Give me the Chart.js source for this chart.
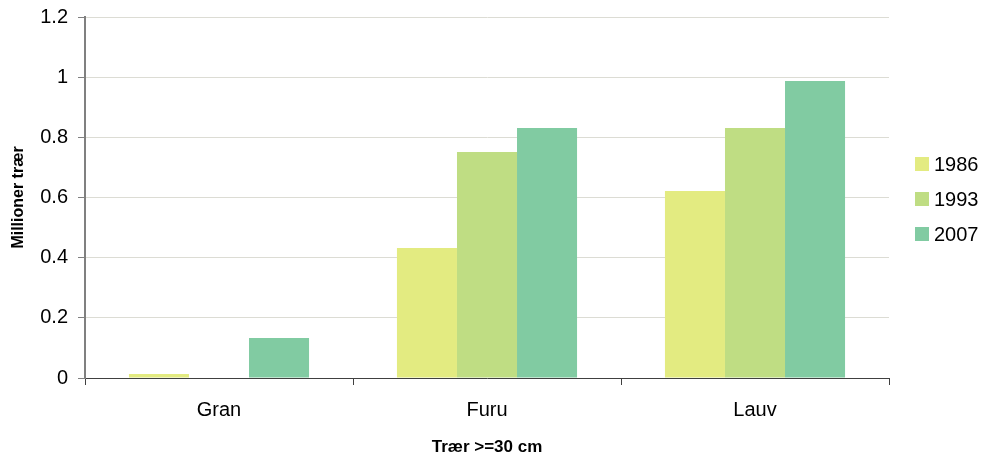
<!DOCTYPE html>
<html>
<head>
<meta charset="utf-8">
<script src="https://cdn.jsdelivr.net/npm/chart.js@4"></script>
<style>
    html, body { margin: 0; padding: 0; background: #ffffff; }
    #wrap { width: 983px; height: 454px; position: relative; }
    #legend { position: absolute; left: 915px; top: 157px; font: 20px 'Liberation Sans', Arial, sans-serif; color: #000; }
    #legend div { height: 35px; display: flex; align-items: flex-start; }
    #legend span.box { width: 14px; height: 14px; margin-right: 5px; }
    #legend span.txt { line-height: 14px; }
</style>
</head>
<body>
<div id="wrap"><canvas id="treeChart"></canvas><div id="legend"></div></div>
<script>
// ================================
// Data
// ================================

const categories = ["Gran", "Furu", "Lauv"];

const years = ["1986", "1993", "2007"];

const values1986 = [0.013, 0.432, 0.622];
const values1993 = [0, 0.751, 0.831];
const values2007 = [0.133, 0.831, 0.987];

const yTicks = [0, 0.2, 0.4, 0.6, 0.8, 1, 1.2];

const barColors = ["#e3eb81", "#bfdd83", "#81cba2"];

// ================================
// Chart
// ================================

Chart.defaults.font.family = "'Liberation Sans', Arial, sans-serif";
Chart.defaults.color = "#000000";

const seriesValues = [values1986, values1993, values2007];

const chart = new Chart(document.getElementById("treeChart"), {

    type: "bar",

    data: {
        labels: categories,
        datasets: years.map((year, i) => ({
            label: year,
            data: seriesValues[i],
            backgroundColor: barColors[i],
            borderWidth: 0,
            categoryPercentage: 0.672,
            barPercentage: 1
        }))
    },

    options: {
        responsive: true,
        maintainAspectRatio: false,
        animation: false,
        layout: {
            padding: { top: 0, right: 94, left: 0, bottom: 0 }
        },
        plugins: {
            tooltip: { enabled: false },
            legend: { display: false }
        },
        scales: {
            x: {
                afterFit: scale => { scale.height = 76; },
                grid: {
                    offset: true,
                    drawOnChartArea: false,
                    drawTicks: true,
                    tickLength: 7,
                    tickColor: "#404040"
                },
                border: { color: "#404040", width: 1 },
                ticks: { font: { size: 20 }, padding: 13 },
                title: {
                    display: true,
                    text: "Trær >=30 cm",
                    font: { size: 17, weight: "bold" },
                    padding: { top: 0, bottom: -4 }
                }
            },
            y: {
                min: 0,
                max: 1.2,
                afterFit: scale => {
                    scale.width = 85;
                    scale.paddingTop = 17;
                },
                afterBuildTicks: scale => {
                    scale.ticks = yTicks.map(v => ({ value: v }));
                },
                grid: {
                    color: "#dcdcd4",
                    tickColor: "#808080",
                    tickLength: 7,
                    lineWidth: 1
                },
                border: { color: "#808080", width: 2 },
                ticks: {
                    font: { size: 20 },
                    padding: 10,
                    callback: v => String(v)
                },
                title: {
                    display: true,
                    text: "Millioner trær",
                    font: { size: 16, weight: "bold" },
                    padding: { top: 9, bottom: 4 }
                }
            }
        }
    }

});

// ================================
// Legend (built from datasets)
// ================================

const legendBox = document.getElementById("legend");

chart.data.datasets.forEach(ds => {
    legendBox.innerHTML += `<div><span class="box" style="background:${ds.backgroundColor}"></span><span class="txt">${ds.label}</span></div>`;
});
</script>
</body>
</html>
